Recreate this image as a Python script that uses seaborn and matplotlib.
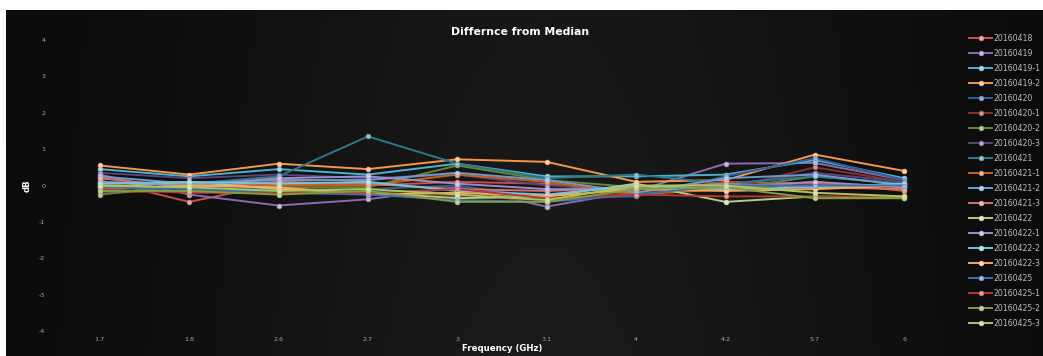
import numpy as np
import pandas as pd
import matplotlib
matplotlib.use("Agg")
import matplotlib.pyplot as plt
import matplotlib.colors as mcolors
import seaborn as sns

plt.rcParams["axes.unicode_minus"] = False

# Frequencies (GHz) used as categorical x positions
frequencies = ["1.7", "1.8", "2.6", "2.7", "3", "3.1", "4", "4.2", "5.7", "6"]

# Per-run difference from the median (dB)
s20160418   = [0.15, -0.45, 0.05, 0.00, 0.10, 0.05, -0.25, 0.10, 0.05, -0.05]
s20160419   = [0.30, -0.25, -0.55, -0.38, -0.05, -0.58, -0.15, 0.60, 0.62, 0.15]
s20160419_1 = [0.45, 0.25, 0.45, 0.30, 0.60, 0.25, 0.25, 0.30, 0.70, 0.20]
s20160419_2 = [0.55, 0.30, 0.60, 0.45, 0.72, 0.65, 0.10, 0.15, 0.85, 0.40]
s20160420   = [0.00, -0.05, -0.10, -0.10, 0.00, -0.35, -0.30, 0.25, 0.75, 0.15]
s20160420_1 = [-0.20, -0.15, -0.15, -0.20, -0.30, -0.40, -0.20, -0.10, 0.50, 0.10]
s20160420_2 = [-0.25, 0.00, -0.05, -0.05, 0.55, 0.15, -0.05, -0.10, 0.25, 0.05]
s20160420_3 = [0.35, 0.20, 0.30, 0.20, 0.30, 0.00, -0.10, 0.00, 0.35, 0.10]
s20160421   = [0.10, 0.05, 0.25, 1.35, 0.60, 0.20, 0.30, 0.05, 0.25, 0.05]
s20160421_1 = [0.05, 0.05, 0.00, 0.00, 0.30, 0.10, -0.25, -0.10, 0.10, -0.15]
s20160421_2 = [0.25, 0.05, 0.15, 0.15, 0.35, 0.15, -0.20, 0.20, 0.30, 0.00]
s20160421_3 = [0.20, -0.05, 0.10, 0.05, -0.10, -0.15, -0.05, 0.05, -0.05, -0.10]
s20160422   = [-0.05, 0.10, -0.10, -0.20, -0.35, -0.30, 0.05, -0.45, -0.30, -0.35]
s20160422_1 = [0.10, 0.00, 0.20, 0.25, 0.05, -0.10, -0.10, -0.05, 0.10, -0.05]
s20160422_2 = [0.05, 0.10, 0.05, 0.10, -0.15, -0.25, 0.00, -0.10, -0.05, 0.05]
s20160422_3 = [-0.10, 0.00, -0.05, -0.25, -0.20, -0.30, -0.10, -0.15, -0.10, 0.00]
s20160425   = [-0.05, -0.10, -0.20, -0.25, -0.40, -0.45, -0.25, 0.00, 0.00, 0.00]
s20160425_1 = [-0.10, -0.20, -0.20, -0.20, -0.10, -0.35, -0.25, -0.30, -0.30, -0.30]
s20160425_2 = [-0.15, -0.15, -0.25, -0.15, -0.45, -0.45, -0.10, -0.05, -0.35, -0.35]
s20160425_3 = [0.00, -0.05, -0.15, -0.10, -0.25, -0.40, 0.00, 0.00, -0.20, -0.30]

series_names = ["20160418", "20160419", "20160419-1", "20160419-2", "20160420",
                "20160420-1", "20160420-2", "20160420-3", "20160421", "20160421-1",
                "20160421-2", "20160421-3", "20160422", "20160422-1", "20160422-2",
                "20160422-3", "20160425", "20160425-1", "20160425-2", "20160425-3"]
series_values = [s20160418, s20160419, s20160419_1, s20160419_2, s20160420,
                 s20160420_1, s20160420_2, s20160420_3, s20160421, s20160421_1,
                 s20160421_2, s20160421_3, s20160422, s20160422_1, s20160422_2,
                 s20160422_3, s20160425, s20160425_1, s20160425_2, s20160425_3]

palette = ["#c9504d", "#8a6bb0", "#4bb3cc", "#f79646", "#2f5f96",
           "#8c2f2c", "#6b8434", "#5a4478", "#2a7a8c", "#c8610f",
           "#6f9ad0", "#d9706e", "#b4d07c", "#a08cc6", "#6fc8de",
           "#f9a860", "#3a6fb0", "#b03a36", "#7f9e3e", "#a8c85e"]

df = pd.DataFrame([
    {"Frequency": f, "dB": v, "Run": name}
    for name, vals in zip(series_names, series_values)
    for f, v in zip(frequencies, vals)
])

W, H, DPI = 1043, 356, 100
fig = plt.figure(figsize=(W / DPI, H / DPI), dpi=DPI)
fig.patch.set_facecolor("white")

# Dark backdrop with a soft lighter band through the middle
bg = fig.add_axes([6 / W, 0, 1 - 6 / W, 1 - 10 / H])
bg.set_axis_off()
xx = np.linspace(0, 1, 600)
yy = np.linspace(0, 1, 200)
X, Y = np.meshgrid(xx, yy)
lum = 0.042 + 0.060 * np.exp(-((X - 0.52) / 0.34) ** 2) * (1 - 0.2 * Y)
img = np.dstack([lum, lum, lum])
bg.imshow(img, aspect="auto", extent=[0, 1, 0, 1], origin="lower")
bg.set_xlim(0, 1)
bg.set_ylim(0, 1)

ax = fig.add_axes([55 / W, 25 / H, (949 - 55) / W, (331 - 40) / H])
ax.patch.set_alpha(0)

sns.lineplot(data=df, x="Frequency", y="dB", hue="Run", palette=palette,
             sort=False, marker="o", markersize=3.2, linewidth=1.4,
             markeredgewidth=0.7, ax=ax)


def lighten(c, amt=0.45):
    r, g, b = mcolors.to_rgb(c)
    return (r + (1 - r) * amt, g + (1 - g) * amt, b + (1 - b) * amt)


# Glossy marker rims: each marker gets a lighter tint of its own line colour
for ln in ax.lines:
    col = ln.get_color()
    ln.set_markeredgecolor(lighten(col, 0.3))
    ln.set_markerfacecolor(lighten(col, 0.55))

ax.set_xlim(-0.5, len(frequencies) - 0.5)
ax.set_ylim(-4, 4)
ax.set_yticks(range(-4, 5))
for s in ax.spines.values():
    s.set_visible(False)
ax.grid(False)
ax.tick_params(axis="both", length=0, colors="#a8a8a8", labelsize=4.6)
ax.tick_params(axis="x", pad=4)
ax.tick_params(axis="y", pad=7)

ax.set_xlabel("Frequency (GHz)", color="white", fontsize=6.2, fontweight="bold", labelpad=2)
ax.set_ylabel("dB", color="white", fontsize=6.2, fontweight="bold", labelpad=5)

fig.text(520 / W, 1 - 32 / H, "Differnce from Median", color="white",
         fontsize=7.8, fontweight="bold", ha="center", va="center")

handles, labels = ax.get_legend_handles_labels()
for h in handles:
    col = h.get_color()
    h.set_markeredgecolor(lighten(col, 0.3))
    h.set_markerfacecolor(lighten(col, 0.55))
leg = ax.legend(handles, labels, loc="upper left", bbox_to_anchor=(969 / W, 1 - 34 / H),
                bbox_transform=fig.transFigure, frameon=False, fontsize=5.6,
                handlelength=3.0, handletextpad=0.2, labelspacing=0.77,
                borderaxespad=0, borderpad=0)
for t in leg.get_texts():
    t.set_color("#bdbdbd")

fig.savefig("out.png", dpi=DPI, facecolor=fig.get_facecolor())
